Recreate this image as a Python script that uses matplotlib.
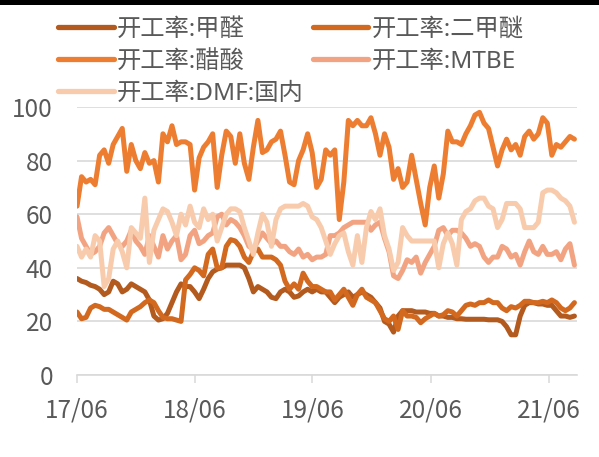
import matplotlib
matplotlib.use("Agg")
import matplotlib.pyplot as plt
import matplotlib.dates as mdates
from matplotlib.patches import Rectangle
import pandas as pd

plt.rcParams['font.family'] = ['Noto Sans CJK SC', 'DejaVu Sans']

# bi-weekly dates
dates = pd.date_range('2017-06-02', periods=111, freq='14D')

formaldehyde = [36, 35, 34.5, 33.5, 33, 32, 30, 31, 35, 34, 31, 32, 34, 33, 32, 31, 28, 22, 20.5, 21,
                23, 27, 31, 34, 33, 33, 31, 28.5, 32, 36, 38.5, 39.5, 40, 41, 41, 41, 41, 40, 36, 31,
                33, 32, 31, 29, 28.5, 31, 32, 31, 29, 29.5, 31, 32, 31, 32, 31, 31, 29, 27, 29, 30,
                31, 29, 30, 31, 30, 29, 27, 25, 20, 19, 16, 22, 24, 24, 24, 23.5, 23.5, 23.5, 23, 23,
                22, 22, 21.5, 21.5, 21, 21, 20.8, 20.8, 20.8, 20.8, 20.8, 20.6, 20.6, 20.6, 20, 18, 15, 15, 22, 26,
                27, 27, 26.5, 26.5, 26, 26, 24, 22, 22, 21.5, 22]

dme = [23.5, 21, 21.5, 25, 26, 25.5, 24.5, 24.5, 23.5, 22.5, 21.5, 20.5, 23.5, 24.5, 25.5, 27, 28, 27, 24, 21.5,
       21, 21, 20.5, 20, 35.5, 37.5, 40, 39, 37, 45, 47, 40, 40, 48, 50.5, 50, 48, 44, 42, 46,
       47, 44, 44, 44, 43, 41, 35, 32, 34, 32, 38, 35, 33, 33, 32, 31, 31, 28, 30, 32,
       29, 26, 30, 32, 29, 28, 27, 24, 21, 20, 22, 17, 24, 22, 22, 21.5, 19.5, 21, 22, 23,
       22, 22.5, 24, 23.5, 22, 24, 26, 26.5, 26, 27, 27, 28, 27, 27, 25, 24, 25.5, 25, 26, 27.5,
       27.5, 27, 27, 27.5, 27, 28, 27, 25, 24, 25, 27]

acetic = [63, 74, 72, 73, 71, 82, 84, 79, 86, 89, 92, 76, 86, 80, 77, 83, 79, 80, 72, 90,
          87, 93, 86, 87, 87, 86, 69, 81, 85, 87, 90, 70, 82, 91, 89, 79, 90, 79, 73, 85,
          95, 83, 84, 87, 88, 91, 82, 72, 71, 80, 84, 90, 83, 70, 73, 84, 82, 84, 58, 72,
          95, 93, 95, 93, 93, 96, 90, 82, 90, 85, 73, 77, 70, 72, 82, 73, 64, 56, 70, 78,
          66, 75, 91, 87, 87, 86, 90, 93, 97, 98, 94, 92, 85, 78, 84, 88, 84, 86, 82, 89,
          91, 88, 90, 96, 94, 82, 86, 85, 87, 89, 88]

mtbe = [59, 51, 48, 45, 46, 48, 53, 55, 52, 49, 48, 50, 54, 50, 48, 45, 52, 48, 44, 52,
        47, 50, 52, 43, 45, 52, 54, 49, 50, 52, 53, 59, 60, 56, 58, 57, 55, 52, 48, 47,
        50, 53, 51, 49, 50, 48, 48, 46, 45, 47, 44, 45, 43, 44, 44, 45, 52, 52, 53, 55,
        56, 57, 57, 57, 57, 54, 56, 57, 51, 46, 37, 36, 39, 43, 42, 44, 38, 42, 45, 48,
        54, 55, 52, 54, 54, 53, 51, 48, 49, 48, 44, 42, 44, 44, 48, 47, 44, 45, 41, 46,
        50, 46, 45, 48, 45, 45, 46, 43, 47, 49, 41]

dmf = [48, 44, 47, 44, 52, 50, 33, 36, 47, 50, 46, 40, 55, 53, 51, 66, 42, 54, 58, 62,
       61, 57, 52, 60, 56, 63, 57, 55, 62, 58, 60, 50, 55, 60, 62, 62, 61, 55, 50, 45,
       53, 60, 57, 48, 58, 62, 63, 63, 63, 63, 64, 63, 59, 58, 55, 50, 45, 49, 52, 53,
       46, 41, 52, 42, 55, 61, 58, 62, 52, 47, 39, 42, 55, 52, 50, 50, 50, 50, 50, 50,
       40, 49, 53, 49, 41, 58, 61, 62, 65, 66, 66, 63, 62, 55, 58, 64, 64, 64, 62, 55,
       55, 55, 57, 68, 69, 69, 68, 66, 65, 63, 57]

series = [
    ('开工率:甲醛', formaldehyde, '#B35A1F'),
    ('开工率:二甲醚', dme, '#D2691E'),
    ('开工率:醋酸', acetic, '#ED7D31'),
    ('开工率:MTBE', mtbe, '#F2A482'),
    ('开工率:DMF:国内', dmf, '#F8CBAD'),
]

yticks = [0, 20, 40, 60, 80, 100]
xticks = pd.to_datetime(['2017-06-01', '2018-06-01', '2019-06-01', '2020-06-01', '2021-06-01'])

fig = plt.figure(figsize=(5.99, 4.57), dpi=100)
ax = fig.add_axes([76.7 / 599, 82 / 457, 500 / 599, 268 / 457])

handles = {}
for name, vals, col in series:
    ln, = ax.plot(dates, vals, color=col, lw=3.6, solid_capstyle='round',
                  solid_joinstyle='round', label=name)
    handles[name] = ln

ax.set_ylim(0, 100)
ax.set_yticks(yticks)
ax.set_xlim(pd.Timestamp('2017-06-01'), pd.Timestamp('2021-08-27'))
ax.set_xticks(xticks)
ax.xaxis.set_major_formatter(mdates.DateFormatter('%y/%m'))

ax.grid(axis='y', color='#D9D9D9', lw=1.2)
ax.set_axisbelow(True)
for s in ['top', 'right', 'left']:
    ax.spines[s].set_visible(False)
ax.spines['bottom'].set_color('#D9D9D9')
ax.spines['bottom'].set_linewidth(1.2)
ax.tick_params(axis='y', length=0, pad=17, labelsize=17.5, labelcolor='#595959')
ax.tick_params(axis='x', length=6, width=1.1, color='#D9D9D9', pad=10,
               labelsize=17.5, labelcolor='#595959')

order = ['开工率:甲醛', '开工率:醋酸', '开工率:DMF:国内', '开工率:二甲醚', '开工率:MTBE']
leg = fig.legend([handles[k] for k in order], order, loc='upper left',
                 bbox_to_anchor=(58 / 599, 1 - 18 / 457), ncol=2, frameon=False,
                 prop={'family': ['Noto Sans', 'Noto Sans CJK SC'], 'size': 17.5},
                 handlelength=2.3, handletextpad=0.12,
                 columnspacing=0.37, labelspacing=0.32, borderpad=0, borderaxespad=0)
for t in leg.get_texts():
    t.set_color('#595959')
for l in leg.get_lines():
    l.set_linewidth(3.8)

fig.add_artist(Rectangle((0, 1 - 4.5 / 457), 1, 4.5 / 457, transform=fig.transFigure,
                         color='black', lw=0))

fig.savefig('out.png', dpi=100)
